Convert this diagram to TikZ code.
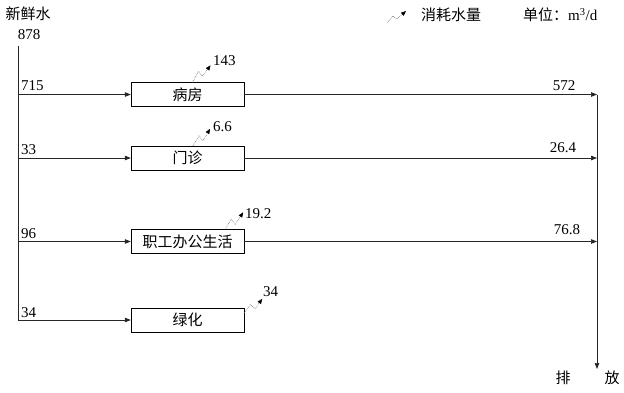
\documentclass[tikz,border=0pt]{standalone}
\usepackage{fontspec}
\setmainfont{Liberation Serif}
\newfontfamily\cjk{Noto Sans CJK SC}
\usetikzlibrary{arrows.meta, positioning}

\begin{document}
\begin{tikzpicture}[x=1pt, y=-1pt, every node/.style={font=\fontsize{15}{17}\selectfont, inner sep=1pt},
  >={Triangle[length=6pt, width=4.5pt]},
  cn/.style={font=\cjk\fontsize{15}{17}\selectfont},
  unit/.style={draw, cn, minimum width=113pt, minimum height=24pt, inner sep=0pt},
  flow/.style={->, line width=0.7pt, black!85},
  consume/.style={densely dotted, line width=0.6pt, black!60, -{Triangle[length=5pt, width=4pt, black]}}]
  \useasboundingbox (0,0) rectangle (624,392);

  % fresh water in (left)
  \node at (28,14) [cn] (src) {新鲜水};
  \node at (29,35) (total) {878};
  \coordinate (top) at (18,46);

  % users
  \node[unit] (ward) at (187.5,94.5) {病房};
  \node[unit] (clinic) at (187.5,158) {门诊};
  \node[unit] (office) at (187.5,241.5) {职工办公生活};
  \node[unit] (green) at (187.5,320) {绿化};

  \draw[flow] (top) |- (green);
  \draw[flow] (top |- ward) -- (ward);
  \draw[flow] (top |- clinic) -- (clinic);
  \draw[flow] (top |- office) -- (office);
  \node at (20,92) [anchor=south west] {715};
  \node at (20,156) [anchor=south west] {33};
  \node at (20,240) [anchor=south west] {96};
  \node at (20,319) [anchor=south west] {34};

  % discharge (right)
  \coordinate (out) at (597,369);
  \draw[flow] (ward) -- (ward -| out);
  \draw[flow] (clinic) -- (clinic -| out);
  \draw[flow] (office) -- (office -| out);
  \draw[flow] (ward -| out) -- (out);
  \node at (564,92) [anchor=south] {572};
  \node at (563,154) [anchor=south] {26.4};
  \node at (567,236) [anchor=south] {76.8};
  \node at (563,378) [cn] (dis1) {排};
  \node at (612,378) [cn] (dis2) {放};

  % consumed water
  \coordinate (c1) at ([xshift=5pt]ward.north);
  \coordinate (c2) at ([xshift=5.5pt]clinic.north);
  \coordinate (c3) at ([xshift=-19pt]office.north east);
  \coordinate (c4) at ([yshift=-5pt]green.north east);
  \draw[consume] (c1) -- ++(6,-11) -- ++(4,5) -- ++(8,-11);
  \draw[consume] (c2) -- ++(6,-10) -- ++(4,5) -- ++(7,-12);
  \draw[consume] (c3) -- ++(6,-10) -- ++(4,5) -- ++(8,-12);
  \draw[consume] (c4) -- ++(6,-8) -- ++(5,4) -- ++(7,-10);
  \node at (212,61) [anchor=west] (q1) {143};
  \node at (212,127) [anchor=west] (q2) {6.6};
  \node at (244,214) [anchor=west] (q3) {19.2};
  \node at (262,292) [anchor=west] (q4) {34};

  % legend
  \node at (420,15) [cn, anchor=west] (legend) {消耗水量};
  \coordinate (lg) at (387,23);
  \draw[consume] (lg) -- ++(6,-7) -- ++(4,3) -- ++(9,-8);
  \node at (522,15) [anchor=west] (unit) {{\cjk 单位：}m\textsuperscript{3}/d};
\end{tikzpicture}
\end{document}
